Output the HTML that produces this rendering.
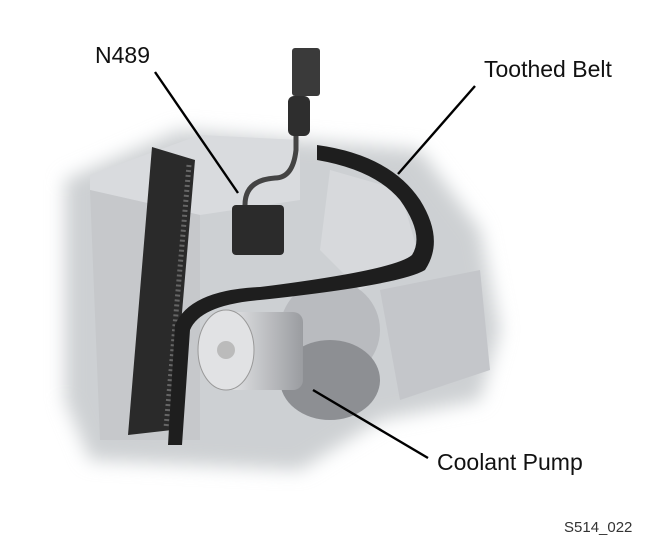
<!DOCTYPE html>
<html><head><style>
body{margin:0;width:652px;height:552px;background:#fff;overflow:hidden;font-family:"Liberation Sans",sans-serif}
svg{position:absolute;left:0;top:0}
</style></head><body>
<svg width="652" height="552" viewBox="0 0 652 552">
<defs>
<filter id="b"><feGaussianBlur stdDeviation="9"/></filter>
<linearGradient id="p" x1="0" x2="1"><stop offset="0" stop-color="#e6e7e9"/><stop offset="1" stop-color="#9a9ca0"/></linearGradient>
</defs>
<g filter="url(#b)">
<path d="M65 180 L180 130 L420 150 L480 230 L500 330 L480 400 L380 420 L300 470 L90 460 L65 400 Z" fill="#cdd0d3"/>
</g>
<path d="M90 175 L200 135 L300 140 L300 200 L200 215 L90 190 Z" fill="#d9dbde"/>
<path d="M90 190 L200 215 L200 440 L100 440 Z" fill="#c6c8cb"/>
<path d="M330 170 L400 190 L420 260 L360 290 L320 250 Z" fill="#d7d9dc"/>
<path d="M380 290 L480 270 L490 370 L400 400 Z" fill="#c4c6ca"/>
<circle cx="330" cy="330" r="50" fill="#b9bbbf"/>
<!-- left belt -->
<path d="M152 147 L195 160 L172 430 L128 435 Z" fill="#2a2a2a"/>
<path d="M189 165 L166 428" stroke="#666" stroke-width="5" stroke-dasharray="2 3"/>
<!-- right belt strand -->
<path d="M317 145 Q390 155 420 200 Q445 240 425 270 Q400 285 260 300 Q200 305 190 330 L182 445 L168 445 L175 325 Q190 290 260 287 Q395 270 412 255 Q425 235 400 200 Q375 170 317 160 Z" fill="#1e1e1e"/>
<!-- pump -->
<ellipse cx="330" cy="380" rx="50" ry="40" fill="#8d8f93"/>
<rect x="225" y="312" width="78" height="78" rx="10" fill="url(#p)"/>
<ellipse cx="226" cy="350" rx="28" ry="40" fill="#e1e2e4" stroke="#999"/>
<circle cx="226" cy="350" r="9" fill="#bbb"/>
<!-- sensor -->
<rect x="232" y="205" width="52" height="50" rx="4" fill="#2b2b2b"/>
<path d="M245 205 Q245 180 275 178 Q293 178 296 150 L296 100" stroke="#444" stroke-width="5" fill="none"/>
<rect x="292" y="48" width="28" height="48" rx="3" fill="#3a3a3a"/>
<rect x="288" y="96" width="22" height="40" rx="6" fill="#2e2e2e"/>
<!-- leaders -->
<g stroke="#000" stroke-width="2.4">
<line x1="155" y1="72" x2="238" y2="193"/>
<line x1="475" y1="86" x2="398" y2="174"/>
<line x1="428" y1="458" x2="313" y2="390"/>
</g>
<g fill="#111" font-size="23">
<text x="95" y="63">N489</text>
<text x="484" y="77">Toothed Belt</text>
<text x="437" y="470">Coolant Pump</text>
</g>
<text x="564" y="532" font-size="15" fill="#333">S514_022</text>
</svg>
</body></html>
